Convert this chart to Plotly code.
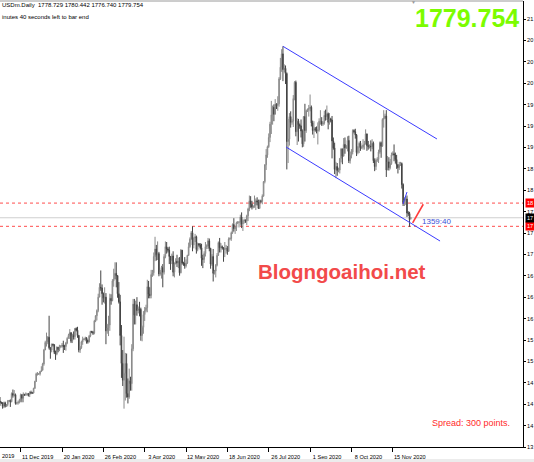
import plotly.graph_objects as go

# ---------------- data ----------------
header_text = "USDm.Daily  1778.729 1780.442 1776.740 1779.754"
timer_text = "inutes 40 seconds left to bar end"
big_price_text = "1779.754"
last_open = 1778.729
current_price = 1779.754
timer_label = "1359:40"
watermark = "Blogngoaihoi.net"
spread_text = "Spread: 300 points."

# x-axis: bar index (daily bars incl. short Sunday bars), labels every 32 bars
x_tick_bars = [16, 48, 80, 112, 144, 176, 208, 240, 272, 304]
x_tick_labels = ["11 Dec 2019", "20 Jan 2020", "26 Feb 2020", "3 Apr 2020",
                 "12 May 2020", "18 Jun 2020", "26 Jul 2020", "1 Sep 2020",
                 "8 Oct 2020", "15 Nov 2020"]
edge_label = "2019"          # only visible part of the label left of the chart

# price scale: the window cuts the labels to their first two digits
y_tick_values = [1385.00, 1421.85, 1458.70, 1495.55, 1532.40, 1569.25, 1606.10,
                 1642.95, 1679.80, 1716.65, 1753.50, 1790.35, 1827.20, 1864.05,
                 1900.90, 1937.75, 1974.60, 2011.45, 2048.30, 2085.15, 2122.00]

close = [1462,
 1461,1455,1461,1455,1458,1464,   # Nov24-29
 1465,1463,1477,1474,1475,1460,   # Dec1-6
 1461,1462,1465,1475,1469,1476,   # Dec8-13
 1475,1476,1476,1475,1479,1478,   # Dec15-20
 1478,1486,1498,1511,1511,        # Dec22-27
 1511,1515,1517,1528,1552,        # Dec29-Jan3
 1565,1566,1574,1556,1552,1562,   # Jan5-10
 1561,1548,1545,1557,1553,1557,   # Jan12-17
 1559,1560,1558,1558,1564,1572,   # Jan19-24
 1577,1582,1567,1577,1575,1589,   # Jan26-31
 1586,1577,1552,1556,1566,1570,   # Feb2-7
 1571,1573,1569,1566,1576,1584,   # Feb9-14
 1583,1581,1602,1611,1620,1643,   # Feb16-21
 1660,1659,1649,1641,1643,1585,   # Feb23-28
 1590,1595,1641,1637,1671,1674,   # Mar1-6
 1684,1680,1649,1635,1577,1529,   # Mar8-13
 1500,1512,1529,1477,1471,1499,   # Mar15-20
 1494,1554,1631,1612,1630,1620,   # Mar22-27
 1623,1622,1577,1591,1613,1620,   # Mar29-Apr3
 1625,1661,1648,1646,1682,        # Apr5-9
 1685,1713,1726,1716,1718,1683,   # Apr12-17
 1686,1694,1686,1713,1730,1726,   # Apr19-24
 1724,1713,1706,1714,1686,1700,   # Apr26-May1
 1705,1702,1705,1685,1724,1702,   # May3-8
 1701,1697,1702,1715,1730,1743,   # May10-15
 1754,1733,1745,1747,1725,1735,   # May17-22
 1733,1728,1710,1708,1718,1730,   # May24-29
 1731,1740,1727,1700,1713,1684,   # May31-Jun5
 1688,1698,1715,1737,1728,1730,   # Jun7-12
 1728,1725,1726,1727,1722,1743,   # Jun14-19
 1744,1754,1768,1761,1763,1771,   # Jun21-26
 1772,1772,1781,1769,1775,1775,   # Jun28-Jul3
 1774,1783,1795,1809,1803,1798,   # Jul5-10
 1799,1802,1809,1807,1796,1809,   # Jul12-17
 1808,1817,1842,1871,1888,1902,   # Jul19-24
 1918,1941,1957,1970,1958,1975,   # Jul26-31
 1973,1976,2019,2039,2062,2035,   # Aug2-7
 2037,2028,1911,1915,1954,1944,   # Aug9-14
 1946,1985,2013,1928,1946,1940,   # Aug16-21
 1938,1929,1907,1954,1930,1964,   # Aug23-28
 1966,1968,1970,1943,1930,1933,   # Aug30-Sep4
 1932,1929,1931,1946,1946,1941,   # Sep6-11
 1943,1956,1954,1959,1944,1950,   # Sep13-18
 1948,1912,1900,1863,1868,1861,   # Sep20-25
 1862,1882,1898,1886,1906,1900,   # Sep27-Oct2
 1902,1913,1878,1887,1893,1930,   # Oct4-9
 1928,1922,1892,1902,1908,1900,   # Oct11-16
 1901,1905,1907,1924,1904,1902,   # Oct18-23
 1903,1902,1908,1878,1868,1879,   # Oct25-30
 1880,1893,1909,1903,1949,1951,   # Nov1-6
 1955,1862,1876,1866,1873,1888,   # Nov8-13
 1890,1888,1880,1871,1866,1871,   # Nov15-20
 1873,1837,1806,1810,1812,1788,   # Nov22-27
 1787,1776.5,1779.754]            # Nov29-Dec1

high = [1471,
 1463,1462,1463,1463,1459,1466,
 1466,1467,1479,1484,1483,1477,
 1462,1465,1468,1477,1476,1479,
 1476,1479,1478,1478,1481,1482,
 1480,1487,1499,1513,1514,
 1512,1516,1524,1530,1554,
 1568,1582,1576,1611,1557,1563,
 1563,1562,1551,1558,1557,1561,
 1560,1564,1568,1561,1566,1574,
 1580,1588,1582,1580,1584,1590,
 1591,1592,1578,1559,1568,1575,
 1572,1575,1574,1570,1578,1585,
 1585,1585,1604,1612,1622,1649,
 1667,1689,1665,1651,1660,1650,
 1597,1611,1649,1648,1674,1692,
 1703,1703,1681,1669,1647,1595,
 1552,1575,1547,1546,1503,1520,
 1506,1562,1640,1640,1637,1643,
 1627,1635,1625,1594,1619,1626,
 1630,1673,1671,1660,1690,
 1690,1720,1747,1733,1739,1721,
 1690,1697,1700,1717,1739,1738,
 1729,1730,1714,1718,1722,1703,
 1710,1716,1711,1712,1726,1723,
 1704,1712,1708,1716,1737,1746,
 1757,1765,1746,1752,1749,1737,
 1736,1736,1735,1716,1722,1738,
 1734,1745,1744,1728,1717,1726,
 1690,1700,1719,1739,1745,1736,
 1732,1729,1738,1733,1731,1746,
 1746,1756,1770,1779,1766,1773,
 1774,1774,1785,1789,1777,1778,
 1777,1785,1797,1818,1817,1809,
 1801,1818,1813,1815,1811,1811,
 1811,1820,1843,1872,1898,1904,
 1925,1945,1981,1973,1975,1984,
 1977,1989,2022,2055,2070,2075,
 2044,2042,2030,1950,1960,1963,
 1950,1991,2015,2016,1951,1950,
 1942,1949,1932,1955,1976,1966,
 1968,1974,1992,1973,1947,1946,
 1936,1937,1944,1951,1965,1953,
 1946,1964,1966,1973,1961,1960,
 1952,1955,1918,1909,1876,1874,
 1866,1882,1900,1899,1917,1918,
 1905,1920,1921,1894,1898,1932,
 1932,1933,1924,1903,1911,1912,
 1904,1915,1912,1932,1925,1912,
 1906,1913,1915,1911,1882,1882,
 1884,1897,1911,1911,1951,1965,
 1959,1965,1886,1884,1881,1892,
 1894,1906,1892,1888,1872,1876,
 1876,1875,1839,1815,1816,1818,
 1791,1790,1780.442]

low = [1456,
 1459,1451,1452,1453,1454,1455,
 1462,1454,1462,1470,1472,1458,
 1458,1458,1460,1462,1462,1462,
 1473,1473,1473,1472,1471,1476,
 1477,1477,1485,1497,1508,
 1509,1508,1514,1517,1525,
 1552,1558,1562,1553,1537,1548,
 1558,1545,1535,1543,1548,1550,
 1556,1556,1547,1552,1551,1562,
 1572,1571,1564,1564,1570,1570,
 1584,1573,1548,1547,1554,1561,
 1569,1567,1563,1563,1565,1574,
 1581,1578,1579,1600,1603,1617,
 1643,1654,1630,1634,1632,1562,
 1580,1576,1585,1630,1636,1661,
 1674,1660,1642,1632,1560,1504,
 1490,1451,1465,1470,1460,1468,
 1482,1482,1550,1596,1596,1611,
 1615,1610,1568,1567,1580,1602,
 1617,1617,1641,1641,1641,
 1678,1680,1705,1706,1707,1679,
 1680,1675,1660,1682,1710,1718,
 1720,1700,1690,1700,1679,1677,
 1700,1695,1693,1680,1684,1699,
 1697,1692,1694,1700,1714,1728,
 1742,1722,1727,1738,1718,1722,
 1730,1725,1697,1693,1702,1713,
 1726,1726,1722,1692,1697,1670,
 1682,1677,1696,1714,1720,1720,
 1725,1704,1712,1718,1716,1721,
 1741,1740,1752,1756,1752,1757,
 1769,1763,1766,1762,1757,1770,
 1771,1767,1774,1791,1797,1794,
 1796,1797,1793,1801,1795,1795,
 1805,1803,1816,1839,1862,1883,
 1900,1910,1924,1940,1946,1958,
 1967,1964,1971,2017,2031,2015,
 2030,2010,1863,1874,1904,1935,
 1940,1936,1982,1920,1905,1911,
 1933,1918,1901,1902,1911,1926,
 1962,1954,1963,1937,1923,1917,
 1928,1925,1906,1928,1940,1938,
 1938,1940,1947,1948,1932,1940,
 1944,1882,1897,1855,1848,1852,
 1858,1856,1875,1872,1885,1890,
 1898,1894,1874,1873,1882,1889,
 1925,1916,1886,1889,1891,1895,
 1898,1897,1897,1906,1895,1897,
 1899,1894,1898,1874,1860,1862,
 1876,1874,1890,1883,1902,1935,
 1950,1850,1865,1861,1863,1871,
 1887,1877,1873,1864,1856,1862,
 1869,1830,1800,1800,1802,1781,
 1783,1764,1776.740]

first_open = 1464
levels = [1805.0, 1765.0]                       # red dotted horizontal lines
channel_upper_x = [219.0, 338.2]; channel_upper_y = [2075.0, 1915.4]
channel_lower_x = [221.4, 340.6]; channel_lower_y = [1901.6, 1739.7]
mini_line_x = [311.9, 315.0];     mini_line_y = [1803.4, 1824.0]
red_arrow_x = [319.4, 327.6];     red_arrow_y = [1771.0, 1803.0]
timer_pos = (325.1, 1773.3)

# ---------------- figure ----------------
W, H = 534, 462
ML, MR, MT, MB = 0, 11, 1, 15
PW, PH = W - ML - MR, H - MT - MB

def px(p):   # pixel x -> paper
    return (p - ML) / PW

def py(p):   # pixel y -> paper
    return (MT + PH - p) / PH

def cut(v):  # label as seen through the window edge
    return ("%.3f" % v)[:2]

n = min(len(close), len(high), len(low))
close = close[:n]; high = high[:n]; low = low[:n]
opens = [first_open] + close[:-1]
opens[-1] = last_open
hi = [max(h, o, c) for h, o, c in zip(high, opens, close)]
lo = [min(l, o, c) for l, o, c in zip(low, opens, close)]
bars = list(range(n))

fig = go.Figure()
fig.add_trace(go.Candlestick(
    x=bars, open=opens, high=hi, low=lo, close=close,
    increasing=dict(line=dict(color="#8a8a8a", width=1), fillcolor="#b4b4b4"),
    decreasing=dict(line=dict(color="#444444", width=1), fillcolor="#444444"),
    whiskerwidth=0, hoverinfo="skip", showlegend=False,
))

shapes = []
for lv in levels:
    shapes.append(dict(type="line", xref="paper", x0=0, x1=1, yref="y", y0=lv, y1=lv,
                       line=dict(color="#ff4d4d", width=1, dash="dot"), layer="below"))
shapes.append(dict(type="line", xref="paper", x0=0, x1=1, yref="y", y0=current_price, y1=current_price,
                   line=dict(color="#cfcfcf", width=1), layer="below"))
for xs, ys, col, wd in [(channel_upper_x, channel_upper_y, "#3b3bff", 1),
                        (channel_lower_x, channel_lower_y, "#3b3bff", 1),
                        (mini_line_x, mini_line_y, "#3b3bff", 1),
                        (red_arrow_x, red_arrow_y, "#ff3b3b", 1.6)]:
    shapes.append(dict(type="line", xref="x", yref="y", x0=xs[0], x1=xs[1], y0=ys[0], y1=ys[1],
                       line=dict(color=col, width=wd)))
# top frame line and bottom grey strip
shapes.append(dict(type="line", xref="paper", yref="paper", x0=0, x1=1, y0=py(1), y1=py(1),
                   line=dict(color="#9a9a9a", width=1)))
shapes.append(dict(type="rect", xref="paper", yref="paper", x0=-0.01, x1=W / PW + 0.01,
                   y0=py(463), y1=py(459), fillcolor="#ececec", line=dict(width=0)))

small_font = "Liberation Sans, Arial, sans-serif"
ann = []
ann.append(dict(xref="paper", yref="paper", x=px(0), y=py(5), xanchor="left", yanchor="middle",
                text=header_text, showarrow=False, font=dict(size=6, color="#000000", family=small_font)))
ann.append(dict(xref="paper", yref="paper", x=px(0), y=py(16.5), xanchor="left", yanchor="middle",
                text=timer_text, showarrow=False, font=dict(size=6, color="#000000", family=small_font)))
ann.append(dict(xref="paper", yref="paper", x=px(521), y=py(17.5), xanchor="right", yanchor="middle",
                text="<b>%s</b>" % big_price_text, showarrow=False,
                font=dict(size=25, color="#7CFC00", family="Liberation Sans, Arial, sans-serif")))
ann.append(dict(xref="paper", yref="paper", x=px(413.5), y=py(2.5), xanchor="center", yanchor="middle",
                text="\u25bc", showarrow=False, font=dict(size=5, color="#9a9a9a")))
ann.append(dict(xref="paper", yref="paper", x=px(341.5), y=py(271), xanchor="center", yanchor="middle",
                text="<b>%s</b>" % watermark, showarrow=False,
                font=dict(size=20.5, color="#f24a4a", family="Liberation Sans, Arial, sans-serif")))
ann.append(dict(xref="paper", yref="paper", x=px(430), y=py(422.5), xanchor="left", yanchor="middle",
                text=spread_text, showarrow=False, font=dict(size=9, color="#ff2a2a", family=small_font)))
ann.append(dict(xref="x", yref="y", x=timer_pos[0], y=timer_pos[1], xanchor="left", yanchor="middle",
                text=timer_label, showarrow=False, font=dict(size=8, color="#3a4fd8", family=small_font)))
# price boxes on the right scale
for lv in levels:
    ann.append(dict(xref="paper", yref="y", x=1, y=lv, xanchor="left", yanchor="middle", xshift=2,
                    text=cut(lv) + " ", showarrow=False, bgcolor="#ff0000", borderpad=1,
                    font=dict(size=5.6, color="#ffffff", family=small_font)))
ann.append(dict(xref="paper", yref="y", x=1, y=current_price, xanchor="left", yanchor="middle", xshift=2,
                text=cut(current_price) + " ", showarrow=False, bgcolor="#000000", borderpad=1,
                font=dict(size=5.6, color="#ffffff", family=small_font)))
# visible tail of the time label left of the chart
ann.append(dict(xref="paper", yref="paper", x=px(0), y=py(450.5),
                xanchor="left", yanchor="top", text=edge_label, showarrow=False,
                font=dict(size=5.6, color="#000000", family=small_font)))

fig.update_layout(
    template="none",
    width=W, height=H,
    margin=dict(l=ML, r=MR, t=MT, b=MB, pad=0),
    paper_bgcolor="#ffffff", plot_bgcolor="#ffffff",
    showlegend=False, hovermode=False,
    shapes=shapes, annotations=ann,
    xaxis=dict(range=[0, 404.8], tickmode="array", tickvals=x_tick_bars, ticktext=x_tick_labels,
               ticks="outside", ticklen=4, tickwidth=1, tickcolor="#000000",
               ticklabelshift=17, ticklabelstandoff=0,
               showline=True, linecolor="#000000", linewidth=1, mirror=False,
               showgrid=False, zeroline=False, automargin=False, fixedrange=True,
               rangeslider=dict(visible=False),
               tickfont=dict(size=5.6, color="#000000", family=small_font)),
    yaxis=dict(range=[1385.0, 1385.0 + 768.0], side="right", tickmode="array",
               tickvals=y_tick_values, ticktext=[cut(v) for v in y_tick_values],
               ticks="outside", ticklen=2, tickwidth=1, tickcolor="#000000",
               showline=True, linecolor="#000000", linewidth=1, mirror=False,
               showgrid=False, zeroline=False, automargin=False, fixedrange=True,
               tickfont=dict(size=5.6, color="#000000", family=small_font)),
)

fig.write_html("out.html", config={"displayModeBar": False, "staticPlot": True},
               post_script="document.body.style.margin='0';document.body.style.overflow='hidden';")
